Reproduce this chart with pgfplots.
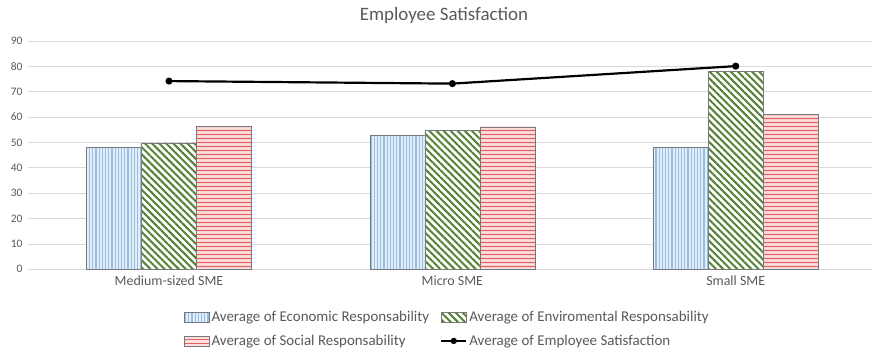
\documentclass[border=0pt]{standalone}
\usepackage{pgfplots}
\pgfplotsset{compat=1.18}
\usepackage{fontspec}
\setmainfont{Carlito}
\usetikzlibrary{patterns.meta}

\definecolor{txt}{RGB}{89,89,89}
\definecolor{gridc}{RGB}{217,217,217}
\definecolor{baredge}{RGB}{120,120,120}
\definecolor{ecoLine}{RGB}{150,190,228}
\definecolor{ecoBg}{RGB}{228,238,248}
\definecolor{envLine}{RGB}{84,130,53}
\definecolor{socLine}{RGB}{228,100,100}
\definecolor{socBg}{RGB}{250,224,224}

% wide tile for horizontal stripes, so the stripes run without breaks
\pgfdeclarepatternformonly{socstripes}{\pgfpoint{0bp}{0bp}}{\pgfpoint{120bp}{3.5bp}}{\pgfpoint{120bp}{3.5bp}}{%
  \pgfsetlinewidth{1.4bp}%
  \pgfpathmoveto{\pgfpoint{-2bp}{1.75bp}}%
  \pgfpathlineto{\pgfpoint{122bp}{1.75bp}}%
  \pgfusepath{stroke}%
}

\pgfplotstableread{
x eco env soc emp
0 48.2 49.9 56.3 74.2
1 52.8 54.7 56.1 73.2
2 48.2 78.0 61.3 80.1
}\smedata

\pgfplotsset{
  barkey/.style={legend image code/.code={\draw[##1] (0bp,-5bp) rectangle (25bp,5bp);}},
  linekey/.style={legend image code/.code={\draw[##1, mark size=2pt, mark repeat=2, mark phase=2] plot coordinates {(0bp,0bp) (12.5bp,0bp) (25bp,0bp)};}},
}

\begin{document}
\begin{tikzpicture}
\useasboundingbox (0,0) rectangle (873bp,352bp);
\node[font=\fontsize{19}{21}\selectfont, text=txt] at (444bp,337bp) {Employee Satisfaction};
\begin{axis}[
  at={(28bp,82.7bp)}, anchor=south west,
  scale only axis, width=844bp, height=228.3bp,
  xmin=-0.4977, xmax=2.481, ymin=0, ymax=90,
  ytick={0,10,...,90},
  xtick=data, xticklabels={Medium-sized SME, Micro SME, Small SME},
  ymajorgrids, grid style={gridc, line width=0.8pt},
  axis line style={draw=none},
  major tick length=0pt,
  /pgf/number format/assume math mode=true,
  yticklabel style={font=\fontsize{11.5}{13}\selectfont, text=txt, xshift=-2bp},
  xticklabel style={font=\fontsize{14}{16}\selectfont, text=txt, yshift=-3bp},
  ybar=0pt, bar width=0.194,
  legend columns=2,
  legend cell align=left,
  legend style={draw=none, font=\fontsize{15}{17}\selectfont, text=txt,
    at={(0.497,-0.165)}, anchor=north,
    /tikz/every even column/.append style={column sep=9bp},
    row sep=8bp},
  clip=false,
]
\addplot[barkey, draw=baredge, fill=ecoBg,
  postaction={pattern={Lines[angle=90, distance=3.2bp, line width=1.1bp]}, pattern color=ecoLine}]
  table[x=x, y=eco] {\smedata};
\addlegendentry{Average of Economic Responsability}
\addplot[barkey, draw=baredge, fill=white,
  postaction={pattern={Lines[angle=-45, distance=5bp, line width=2bp]}, pattern color=envLine}]
  table[x=x, y=env] {\smedata};
\addlegendentry{Average of Enviromental Responsability}
\addplot[barkey, draw=baredge, fill=socBg,
  postaction={pattern=socstripes, pattern color=socLine}]
  table[x=x, y=soc] {\smedata};
\addlegendentry{Average of Social Responsability}
\addplot[linekey, sharp plot, black, line width=2.2pt, mark=*, mark size=2.4pt]
  table[x=x, y=emp] {\smedata};
\addlegendentry{Average of Employee Satisfaction}
\end{axis}
\end{tikzpicture}
\end{document}
